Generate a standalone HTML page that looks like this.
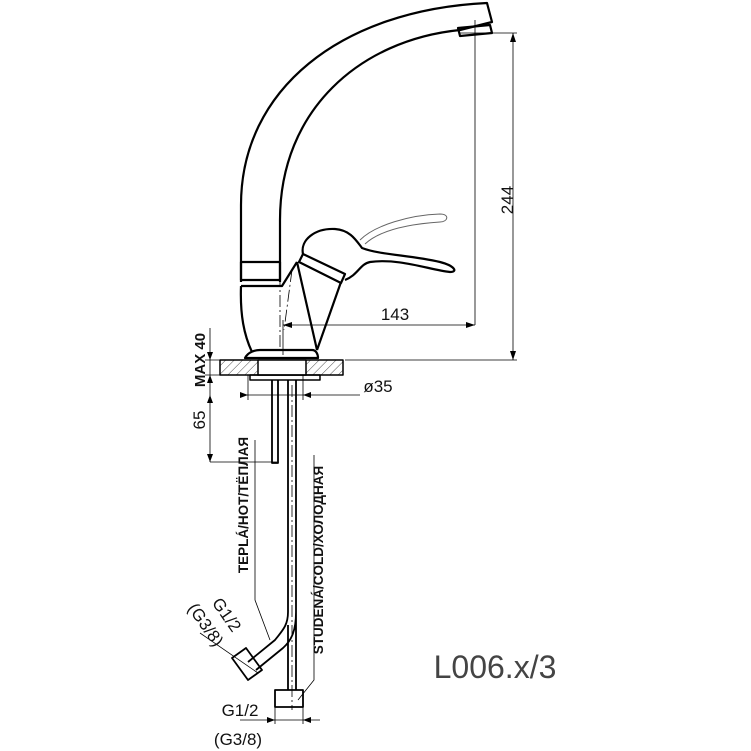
<!DOCTYPE html>
<html><head><meta charset="utf-8"><style>body{margin:0;background:#fff}svg{display:block}</style></head><body>
<svg width="751" height="751" viewBox="0 0 751 751" xmlns="http://www.w3.org/2000/svg" font-family="Liberation Sans, DejaVu Sans, sans-serif">
<defs><pattern id="h" width="6" height="6" patternUnits="userSpaceOnUse" patternTransform="rotate(45)"><line x1="0" y1="0" x2="0" y2="6" stroke="#000" stroke-width="0.7"/></pattern></defs>
<g fill="none" stroke="#000" stroke-width="2.2" stroke-linejoin="round">
<!-- spout -->
<path d="M241,282 L241,205 C241,90 340,10 487,3 L492,22 L460,30 C360,40 280,110 280,220 L280,282"/>
<path d="M458,28 L490,25 L492,33 L460,36 Z"/>
<rect x="241" y="262" width="39" height="18"/>
<!-- body -->
<path d="M241,286 L282,286 L297,262 M241,286 C240,315 244,335 252,352"/>
<path d="M297,262 L317,350 M341,282 L317,350"/>
<path d="M245,358 C248,352 255,350 260,350 L312,350 C316,350 318,354 318,358 Z"/>
<path d="M245,358 L318,358" stroke-width="1.5"/>
<!-- cartridge + handle -->
<path d="M299,262 L303,254 L345,274 L341,283 Z"/>
<path d="M303,254 C300,240 315,228 335,229 C350,230 356,240 362,248 C380,255 410,255 440,262 C455,266 458,272 450,272 C430,270 400,258 370,262 C360,264 358,275 345,280"/>
<path d="M360,240 C375,225 410,215 440,214 C450,214 448,222 440,222 C410,224 380,230 365,244" stroke-width="1" stroke="#666"/>
<!-- counter -->
<rect x="220" y="360" width="123" height="15" fill="url(#h)" stroke-width="1.5"/>
<rect x="258" y="360" width="48" height="15" fill="#fff" stroke-width="1.5"/>
<rect x="250" y="375" width="70" height="5" stroke-width="1.5"/>
<!-- pipes -->
<path d="M278,380 L278,463 L272,463 L272,380" stroke-width="1.8"/>
<path d="M288,380 L288,612 C288,625 283,630 275,640 L248,662" stroke-width="1.8"/>
<path d="M296,380 L296,690 M288,690 L288,625 M296,612 C296,630 292,640 283,648 L256,670" stroke-width="1.8"/>
<path d="M275,690 L303,690 L303,707 L275,707 Z" stroke-width="1.8"/>
<path d="M232,658 L246,648 L262,670 L248,680 Z" stroke-width="1.8"/>
</g>
<g fill="none" stroke="#000" stroke-width="0.8">
<path d="M280,215 L280,350 M292,270 L284,330 M292,385 L292,710" stroke-dasharray="12,3,2,3"/>
<path d="M513,33 L513,360 M460,33 L517,33 M345,360 L517,360"/>
<path d="M283,325 L475,325 M475,20 L475,325 M283,320 L283,355"/>
<path d="M240,395 L360,395 M248,375 L248,400 M303,375 L303,400"/>
<path d="M210,328 L210,462 M205,360 L220,360 M205,375 L220,375 M210,462 L277,462"/>
<path d="M255,440 L255,600 L270,640 M314,455 L314,680 L298,700"/>
<path d="M200,633 L258,673 M275,707 L275,724 M303,707 L303,724 M240,720 L320,720"/>
</g>
<g fill="#000" stroke="none">
<path d="M513,33 l-3,9 h6z M513,360 l-3,-9 h6z M283,325 l9,-3 v6z M475,325 l-9,-3 v6z M248,395 l-8,-3 v6z M303,395 l8,-3 v6z M210,360 l-3,-8 h6z M210,375 l-3,8 h6z M210,395 l-3,8 h6z M210,462 l-3,-8 h6z M275,720 l-8,-3 v6z M303,720 l8,-3 v6z"/>
</g>
<g font-size="17" fill="#111">
<text transform="translate(513,200) rotate(-90)" text-anchor="middle">244</text>
<text x="395" y="320" text-anchor="middle">143</text>
<text x="378" y="392" text-anchor="middle">ø35</text>
<text transform="translate(205,420) rotate(-90)" text-anchor="middle">65</text>
<text transform="translate(205,360) rotate(-90)" text-anchor="middle" font-weight="bold" font-size="15">MAX 40</text>
<text transform="translate(248,505) rotate(-90)" text-anchor="middle" font-weight="bold" font-size="13.5">TEPLÁ/HOT/TЁПЛАЯ</text>
<text transform="translate(323,560) rotate(-90)" text-anchor="middle" font-weight="bold" font-size="13.5">STUDENÁ/COLD/ХОЛОДНАЯ</text>
<text transform="translate(222,618) rotate(55)" text-anchor="middle" font-size="17">G1/2</text>
<text transform="translate(201,628) rotate(55)" text-anchor="middle" font-size="17">(G3/8)</text>
<text x="240" y="716" text-anchor="middle" font-size="17">G1/2</text>
<text x="238" y="745" text-anchor="middle" font-size="17">(G3/8)</text>
<text x="495" y="678" text-anchor="middle" font-size="32" fill="#444" font-weight="300">L006.x/3</text>
</g>
</svg>
</body></html>
